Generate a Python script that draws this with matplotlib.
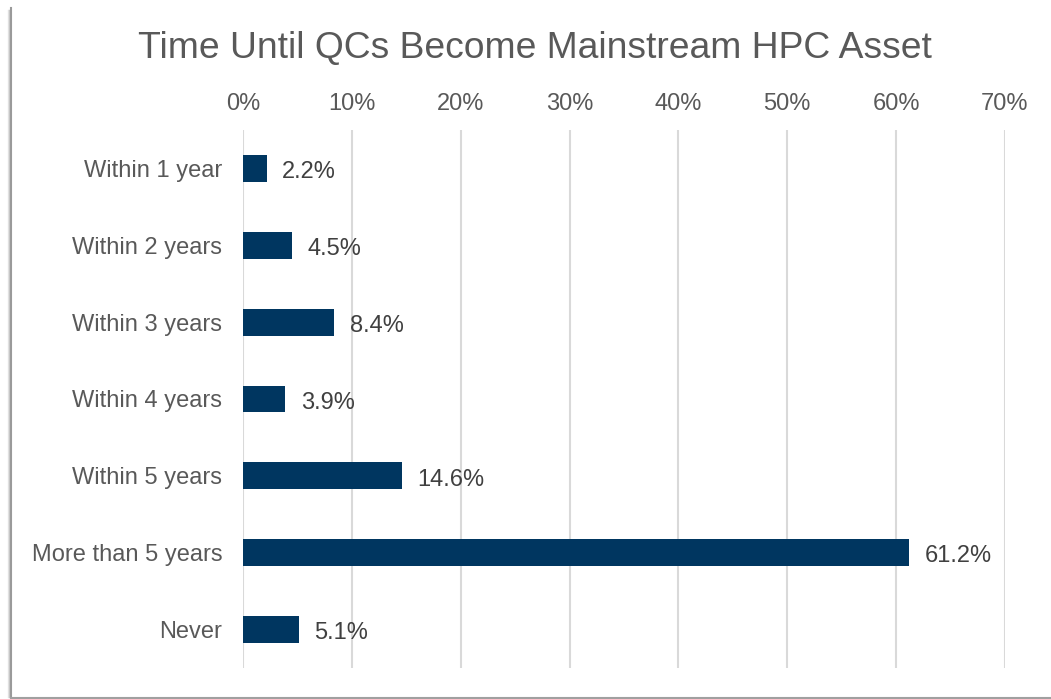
import matplotlib
matplotlib.use("Agg")
import matplotlib.pyplot as plt
from matplotlib.lines import Line2D

categories = ["Within 1 year", "Within 2 years", "Within 3 years", "Within 4 years",
              "Within 5 years", "More than 5 years", "Never"]
values = [2.2, 4.5, 8.4, 3.9, 14.6, 61.2, 5.1]
xticks = [0, 10, 20, 30, 40, 50, 60, 70]
title = "Time Until QCs Become Mainstream HPC Asset"

plt.rcParams['font.family'] = ['Liberation Sans', 'DejaVu Sans']

W, H = 1051, 699
fig = plt.figure(figsize=(W / 100, H / 100), dpi=100)
fig.patch.set_facecolor("white")

ax = fig.add_axes([243 / W, 1 - 668 / H, (1005 - 243) / W, (668 - 130) / H])
y = list(range(len(categories)))
ax.barh(y, values, height=0.35, color="#003660", zorder=3)
ax.set_ylim(len(categories) - 0.5, -0.5)
ax.set_xlim(0, 70)
ax.set_yticks(y)
ax.set_yticklabels(categories, fontsize=17, color="#595959", va="center_baseline")
ax.xaxis.tick_top()
ax.set_xticks(xticks)
ax.set_xticklabels([f"{t}%" for t in xticks], fontsize=17, color="#595959")
ax.tick_params(axis="both", length=0)
ax.tick_params(axis="y", pad=15)
ax.tick_params(axis="x", pad=11)
ax.grid(axis="x", color="#d9d9d9", linewidth=1.5, zorder=0)
for s in ax.spines.values():
    s.set_visible(False)

for yi, v in zip(y, values):
    ax.annotate(f"{v}%", (v, yi), xytext=(11, -7), textcoords="offset points",
                va="baseline", ha="left", fontsize=17, color="#404040")

fig.text(535 / W, 1 - 58 / H, title, fontsize=26.8, color="#595959",
         ha="center", va="baseline")

# frame (left border with shadow and bottom line)
for i, (c, lw) in enumerate([("#e6e6e6", 1.0), ("#cfcfcf", 1.0), ("#b0b0b0", 1.0)]):
    xx = (8 + i) / W
    fig.add_artist(Line2D([xx, xx], [1 - 697 / H, 1 - 10 / H], color=c, lw=lw,
                          transform=fig.transFigure))
xx = 11 / W
fig.add_artist(Line2D([xx, xx], [1 - 697 / H, 1 - 8 / H], color="#9a9a9a", lw=1.5,
                      transform=fig.transFigure))
fig.add_artist(Line2D([11 / W, 1], [1 - 697.5 / H, 1 - 697.5 / H], color="#a0a0a0",
                      lw=1.5, transform=fig.transFigure))

fig.savefig("out.png", dpi=100)
